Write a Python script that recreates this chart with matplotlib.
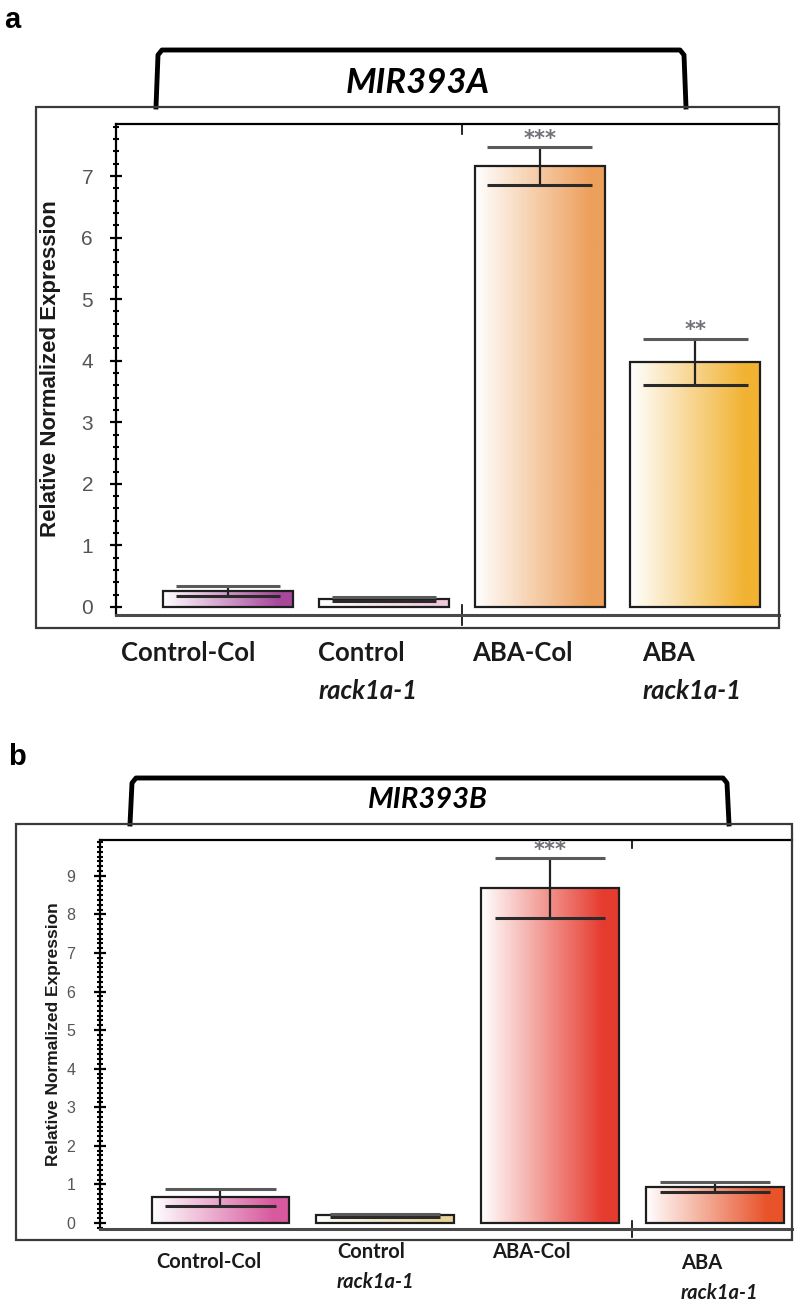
import numpy as np
import matplotlib
matplotlib.use('Agg')
import matplotlib.pyplot as plt
import matplotlib.transforms as mtrans
from matplotlib.colors import LinearSegmentedColormap
from matplotlib.lines import Line2D
from matplotlib.patches import Rectangle
from matplotlib.ticker import MultipleLocator

# data
groups = ['Control-Col', 'Control', 'ABA-Col', 'ABA']
groups_line2 = ['', 'rack1a-1', '', 'rack1a-1']
genes = ['MIR393A', 'MIR393B']
vals_a = [0.26, 0.13, 7.16, 3.98]
err_a = [0.08, 0.03, 0.31, 0.38]
stars_a = ['', '', '***', '**']
vals_b = [0.67, 0.20, 8.68, 0.93]
err_b = [0.22, 0.04, 0.78, 0.13]
stars_b = ['', '', '***', '']
yticks_a = list(range(8))
yticks_b = list(range(10))

cols_a = ['#a8489c', '#f0c8dc', '#eda05c', '#f2b232']
cols_b = ['#d85a9e', '#e6d49a', '#e63c30', '#e8532a']

W, H = 800, 1305
fig = plt.figure(figsize=(8, 13.05), dpi=100)
NARROW = ['Liberation Sans Narrow', 'Liberation Sans', 'DejaVu Sans']
LABF = ['Lato', 'DejaVu Sans']


def fx(x):
    return x / W


def fy(y):
    return 1 - y / H


def draw_panel(letter, letter_xy, gene, gene_xy, gene_fs, bracket, box, axbox,
               xlim, ylim, yticks, minor, vals, errs, stars, cols, tick_fs,
               tick_pad, ylab_xy, ylab_fs, mid_tick, lab_x, lab_y, lab_fs):
    fig.text(fx(letter_xy[0]), fy(letter_xy[1]), letter, fontsize=21,
             fontweight='bold', va='center', ha='left', family='Liberation Sans')

    # bracket over the title
    bl, br, bt, bb = bracket
    xs = [bl, bl + 2, bl + 6, br - 6, br - 2, br]
    ys = [bb, bt + 5, bt, bt, bt + 5, bb]
    fig.add_artist(Line2D([fx(x) for x in xs], [fy(y) for y in ys],
                          transform=fig.transFigure, color='black', lw=3.5,
                          solid_joinstyle='round', zorder=4))
    fig.text(fx(gene_xy[0]), fy(gene_xy[1]), gene, fontsize=gene_fs,
             fontweight='bold', style='italic', ha='center', va='center',
             family=LABF)

    # outer frame
    l, r, t, b = box
    fig.add_artist(Rectangle((fx(l), fy(b)), (r - l) / W, (b - t) / H,
                             transform=fig.transFigure, fill=False,
                             ec='#3a3a3a', lw=1.6, zorder=5))

    al, ar, at, ab = axbox
    ax = fig.add_axes([fx(al), fy(ab), (ar - al) / W, (ab - at) / H])
    ax.patch.set_alpha(0)

    x = np.arange(len(vals))
    w = 0.835
    for xi, v, c in zip(x, vals, cols):
        cmap = LinearSegmentedColormap.from_list(
            'g', [(0, 'white'), (0.88, c), (1, c)])
        ax.imshow(np.linspace(0, 1, 256).reshape(1, -1), cmap=cmap,
                  extent=(xi - w / 2, xi + w / 2, 0, v), aspect='auto',
                  zorder=1, interpolation='bilinear')
    ax.bar(x, vals, w, fill=False, edgecolor='#1e1e1e', lw=1.6, zorder=2)

    vals = np.array(vals)
    errs = np.array(errs)
    cw = 0.335
    ax.vlines(x, vals - errs, vals + errs, color='#222222', lw=1.6, zorder=3)
    ax.hlines(vals + errs, x - cw, x + cw, color='#5a5a5a', lw=2.2, zorder=3)
    ax.hlines(vals - errs, x - cw, x + cw, color='#2a2a2a', lw=2.2, zorder=3)
    for xi, v, e, s in zip(x, vals, errs, stars):
        if s:
            ax.annotate(s, (xi, v + e), xytext=(0, 6), textcoords='offset points',
                        ha='center', va='center', color='#707078',
                        fontsize=15, fontweight='bold')

    ax.set_xlim(*xlim)
    ax.set_ylim(*ylim)

    ax.spines['right'].set_visible(False)
    ax.spines['left'].set_linewidth(1.6)
    ax.spines['top'].set_linewidth(1.6)
    ax.spines['bottom'].set_linewidth(2.2)
    ax.spines['bottom'].set_color('#4a4a4a')

    ax.set_xticks([])
    ax.set_yticks(yticks)
    ax.yaxis.set_minor_locator(MultipleLocator(minor))
    ax.tick_params(axis='y', which='major', direction='inout', length=9,
                   width=1.6, pad=tick_pad, labelsize=tick_fs,
                   labelcolor='#555555')
    ax.tick_params(axis='y', which='minor', direction='inout', length=5,
                   width=1.5)
    for lab in ax.get_yticklabels():
        lab.set_family(NARROW)

    ax.axvline(mid_tick, ymin=0.98, ymax=1.0, color='black', lw=1.2)
    ax.axvline(mid_tick, ymin=-0.02, ymax=0.02, color='black', lw=1.2,
               clip_on=False)

    fig.text(fx(ylab_xy[0]), fy(ylab_xy[1]), 'Relative Normalized Expression',
             rotation=90, ha='center', va='center', fontsize=ylab_fs,
             fontweight='bold', family=NARROW, color='#1a1a1a')

    tr = mtrans.blended_transform_factory(ax.transData, fig.transFigure)
    for xi, (g1, g2) in enumerate(zip(groups, groups_line2)):
        y1, y2 = lab_y[xi]
        ax.text(lab_x[xi], fy(y1), g1, transform=tr, ha='left', va='center',
                fontsize=lab_fs, fontweight='bold', family=LABF,
                color='#1a1a1a')
        if g2:
            ax.text(lab_x[xi], fy(y2), g2, transform=tr, ha='left',
                    va='center', fontsize=lab_fs, fontweight='bold',
                    style='italic', family=LABF, color='#1a1a1a')
    return ax


draw_panel('a', (4, 20), genes[0], (418, 83), 25, (156, 686, 50, 107),
           (36, 779, 107, 628), (116, 779, 124, 615), (-0.719, 3.537),
           (-0.13, 7.845), yticks_a, 0.2, vals_a, err_a, stars_a, cols_a,
           15, 12, (51, 369), 16, 1.5,
           [-0.69, 0.58, 1.57, 2.66],
           [(653, 0), (653, 691), (653, 0), (653, 691)], 18.5)

draw_panel('b', (8, 757), genes[1], (428, 800), 21, (130, 729, 778, 824),
           (16, 792, 824, 1240), (99.5, 792, 840, 1229), (-0.734, 3.468),
           (-0.156, 9.93), yticks_b, 0.125, vals_b, err_b, stars_b, cols_b,
           11.5, 13, (54, 1034), 12.5, 2.5,
           [-0.39, 0.707, 1.647, 2.794],
           [(1262, 0), (1252, 1282), (1252, 0), (1263, 1293)], 14.5)

fig.savefig('out.png', dpi=100)
